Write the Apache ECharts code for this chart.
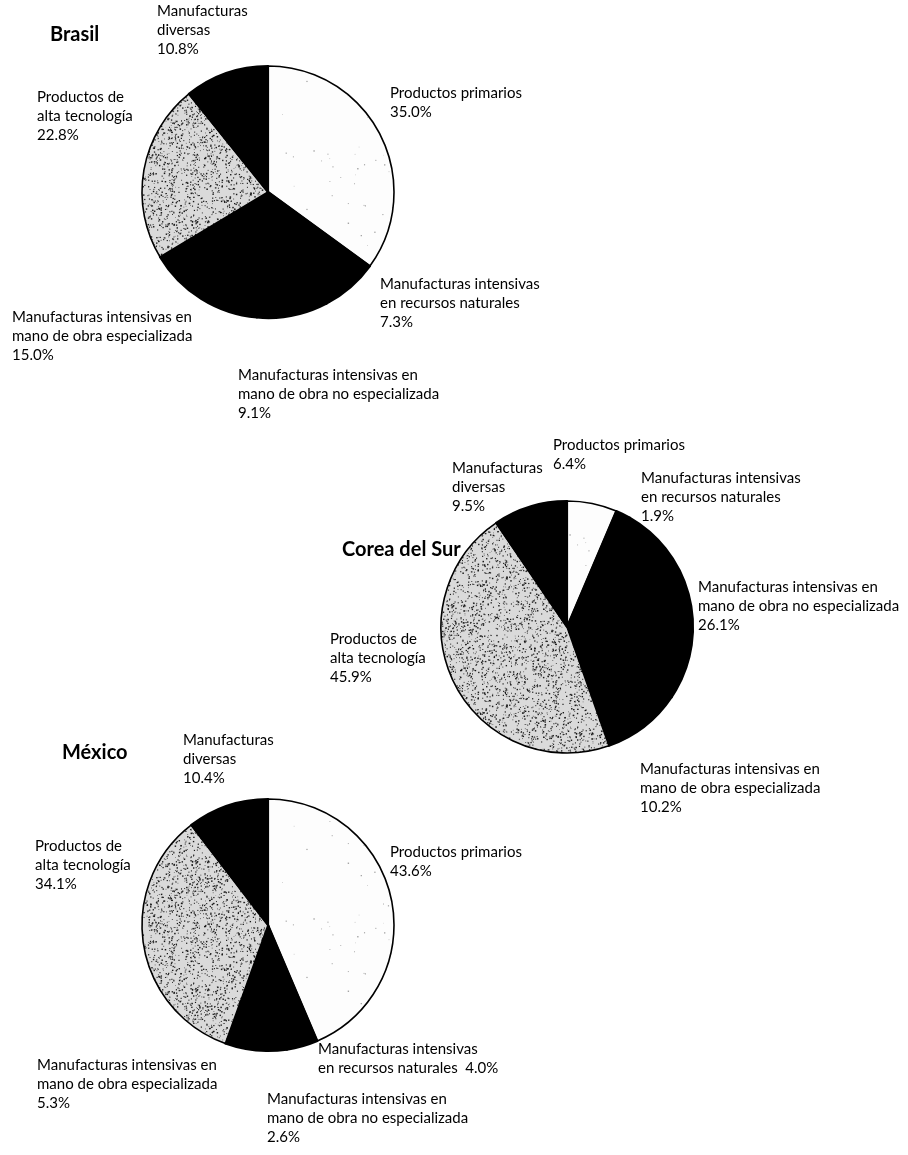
<!DOCTYPE html>
<html>
<head>
<meta charset="utf-8">
<style>
  html, body { margin: 0; padding: 0; background: #fff; }
  #chart { width: 908px; height: 1155px; }
</style>
<script src="https://cdn.jsdelivr.net/npm/echarts@6/dist/echarts.min.js"></script>
</head>
<body>
<div id="chart"></div>
<script>
// ---------------- DATA ----------------
const countries = ['Brasil', 'Corea del Sur', 'México'];
const categories = [
  'Productos primarios',
  'Manufacturas intensivas en recursos naturales',
  'Manufacturas intensivas en mano de obra no especializada',
  'Manufacturas intensivas en mano de obra especializada',
  'Productos de alta tecnología',
  'Manufacturas diversas'
];
const wrappedNames = [
  'Productos primarios',
  'Manufacturas intensivas\nen recursos naturales',
  'Manufacturas intensivas en\nmano de obra no especializada',
  'Manufacturas intensivas en\nmano de obra especializada',
  'Productos de\nalta tecnología',
  'Manufacturas\ndiversas'
];
const brasilValues = [35.0, 7.3, 9.1, 15.0, 22.8, 10.8];
const coreaValues  = [6.4, 1.9, 26.1, 10.2, 45.9, 9.5];
const mexicoValues = [43.6, 4.0, 2.6, 5.3, 34.1, 10.4];
const seriesValues = [brasilValues, coreaValues, mexicoValues];

// ---------------- LAYOUT / STYLE ----------------
const pieCenters = [[268, 192], [567, 627], [268, 925]];
const pieRadius = 126;
const titlePos = [[50, 25], [342, 540], [62, 743]];
// top-left of each label block, per chart, per category
const labelPos = [
  [[390, 84], [380, 275], [238, 366], [12, 308], [37, 88], [157, 2]],
  [[553, 436], [641, 469], [698, 578], [640, 760], [330, 630], [452, 459]],
  [[390, 843], [318, 1040], [267, 1090], [37, 1056], [35, 837], [183, 731]]
];
// separator between name and value (Mexico's natural-resources label is inline)
const labelSep = [
  ['\n', '\n', '\n', '\n', '\n', '\n'],
  ['\n', '\n', '\n', '\n', '\n', '\n'],
  ['\n', '  ', '\n', '\n', '\n', '\n']
];

function speckle(base, dot, count, seed) {
  const c = document.createElement('canvas');
  c.width = 128; c.height = 128;
  const g = c.getContext('2d');
  g.fillStyle = base;
  g.fillRect(0, 0, 128, 128);
  g.fillStyle = dot;
  let s = seed;
  const rnd = () => { s = (s * 1103515245 + 12345) % 2147483648; return s / 2147483648; };
  for (let i = 0; i < count; i++) {
    const x = rnd() * 128, y = rnd() * 128, r = 0.6 + rnd() * 0.9;
    g.fillRect(x, y, r, r);
  }
  return { image: c, repeat: 'repeat' };
}
const whiteFill = speckle('#fdfdfd', '#a0a0a0', 35, 7);
const dotFill = speckle('#dadada', '#1a1a1a', 1700, 13);
const blackFill = '#000';
const sliceFills = [whiteFill, blackFill, blackFill, blackFill, dotFill, blackFill];
const sliceBorder = [1.6, 2.2, 2.2, 2.2, 1.6, 2.2];

const FONT = "Lato, 'Open Sans', 'DejaVu Sans', sans-serif";

const chart = echarts.init(document.getElementById('chart'), null, { renderer: 'canvas' });

const series = seriesValues.map((vals, si) => ({
  type: 'pie',
  center: pieCenters[si],
  radius: pieRadius,
  startAngle: 90,
  clockwise: true,
  avoidLabelOverlap: false,
  animation: false,
  silent: true,
  itemStyle: { borderColor: '#000', borderWidth: 1.6, borderJoin: 'round' },
  labelLine: { show: false },
  label: {
    show: true,
    position: 'outside',
    color: '#000',
    fontFamily: FONT,
    fontSize: 15,
    lineHeight: 19,
    align: 'left',
    formatter: (p) => wrappedNames[p.dataIndex] + labelSep[si][p.dataIndex] + p.value.toFixed(1) + '%'
  },
  labelLayout: (p) => ({
    x: labelPos[si][p.dataIndex][0],
    y: labelPos[si][p.dataIndex][1],
    align: 'left',
    verticalAlign: 'top'
  }),
  data: vals.map((v, i) => ({
    name: categories[i],
    value: v,
    itemStyle: { color: sliceFills[i], borderColor: '#000', borderWidth: sliceBorder[i] }
  }))
}));

chart.setOption({
  backgroundColor: '#fff',
  title: countries.map((c, i) => ({
    text: c,
    left: titlePos[i][0],
    top: titlePos[i][1],
    padding: 0,
    textStyle: { fontFamily: FONT, fontSize: 20, fontWeight: 'bold', color: '#000' }
  })),
  series: series
});
</script>
</body>
</html>
